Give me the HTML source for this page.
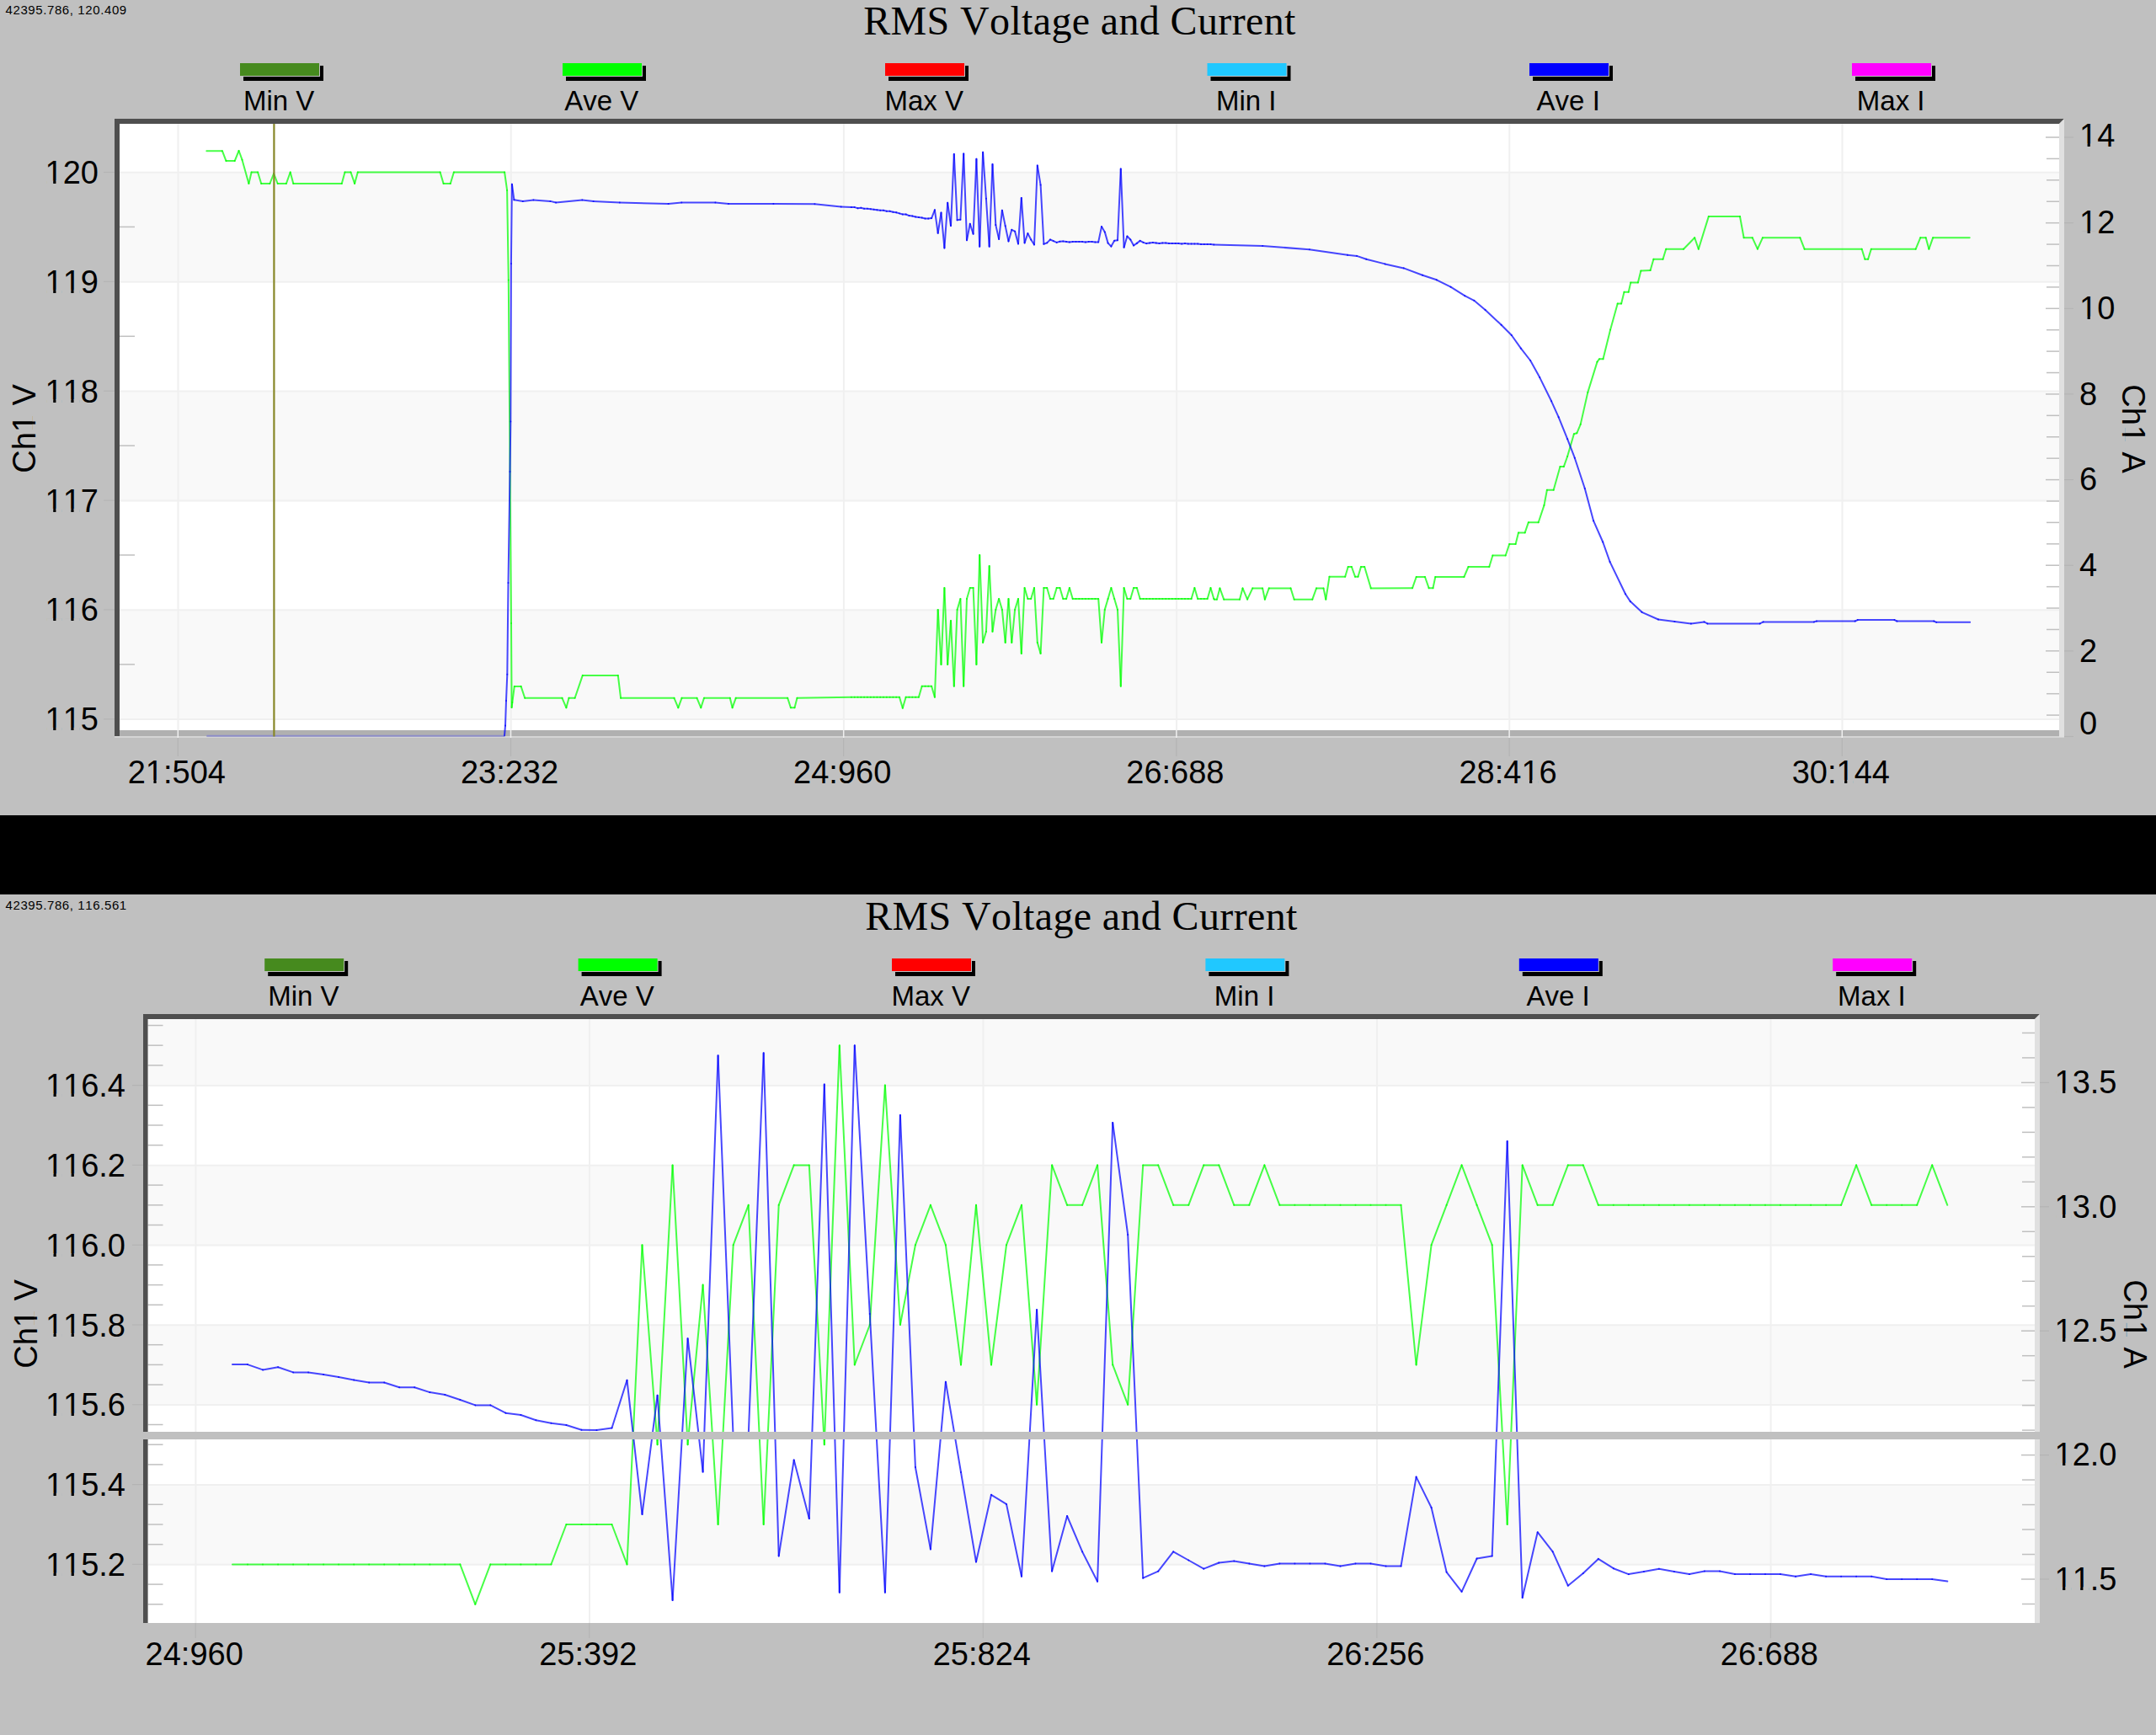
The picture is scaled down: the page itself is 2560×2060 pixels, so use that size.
<!DOCTYPE html><html><head><meta charset="utf-8"><style>html,body{margin:0;padding:0;background:#c0c0c0;overflow:hidden}svg{display:block}</style></head><body><svg width="2560" height="2060" viewBox="0 0 2560 2060">
<rect x="0" y="0" width="2560" height="2060" fill="#c0c0c0"/>
<text x="6.5" y="16.7" font-size="15" text-anchor="start" style="font-family:'Liberation Sans',sans-serif;font-kerning:none" letter-spacing="0.6">42395.786, 120.409</text>
<text x="1025.2" y="40.8" font-size="48" text-anchor="start" style="font-family:'Liberation Serif',serif;font-kerning:none" letter-spacing="0.36">RMS Voltage and Current</text>
<rect x="289" y="78" width="95" height="18" fill="#000"/>
<rect x="284" y="74" width="96" height="17" fill="#c0c0c0"/>
<rect x="285" y="75" width="94" height="15" fill="#468a1e"/>
<text x="331.2" y="130.5" font-size="33" text-anchor="middle" style="font-family:'Liberation Sans',sans-serif;font-kerning:none" >Min V</text>
<rect x="672" y="78" width="95" height="18" fill="#000"/>
<rect x="667" y="74" width="96" height="17" fill="#c0c0c0"/>
<rect x="668" y="75" width="94" height="15" fill="#00ff00"/>
<text x="714.2" y="130.5" font-size="33" text-anchor="middle" style="font-family:'Liberation Sans',sans-serif;font-kerning:none" >Ave V</text>
<rect x="1055" y="78" width="95" height="18" fill="#000"/>
<rect x="1050" y="74" width="96" height="17" fill="#c0c0c0"/>
<rect x="1051" y="75" width="94" height="15" fill="#ff0000"/>
<text x="1097.2" y="130.5" font-size="33" text-anchor="middle" style="font-family:'Liberation Sans',sans-serif;font-kerning:none" >Max V</text>
<rect x="1437.5" y="78" width="95.0" height="18" fill="#000"/>
<rect x="1432.5" y="74" width="96.0" height="17" fill="#c0c0c0"/>
<rect x="1433.5" y="75" width="94.0" height="15" fill="#20c8ff"/>
<text x="1479.7" y="130.5" font-size="33" text-anchor="middle" style="font-family:'Liberation Sans',sans-serif;font-kerning:none" >Min I</text>
<rect x="1820" y="78" width="95" height="18" fill="#000"/>
<rect x="1815" y="74" width="96" height="17" fill="#c0c0c0"/>
<rect x="1816" y="75" width="94" height="15" fill="#0000ff"/>
<text x="1862.2" y="130.5" font-size="33" text-anchor="middle" style="font-family:'Liberation Sans',sans-serif;font-kerning:none" >Ave I</text>
<rect x="2203" y="78" width="95" height="18" fill="#000"/>
<rect x="2198" y="74" width="96" height="17" fill="#c0c0c0"/>
<rect x="2199" y="75" width="94" height="15" fill="#ff00ff"/>
<text x="2245.2" y="130.5" font-size="33" text-anchor="middle" style="font-family:'Liberation Sans',sans-serif;font-kerning:none" >Max I</text>
<rect x="142" y="147" width="2303" height="720" fill="#ffffff"/>
<rect x="142" y="204.5" width="2303" height="129.86" fill="#f9f9f9"/>
<rect x="142" y="464.22" width="2303" height="129.86" fill="#f9f9f9"/>
<rect x="142" y="723.94" width="2303" height="129.86" fill="#f9f9f9"/>
<line x1="142" y1="854.1" x2="2445" y2="854.1" stroke="#f0f0f0" stroke-width="2"/>
<line x1="142" y1="724.24" x2="2445" y2="724.24" stroke="#f0f0f0" stroke-width="2"/>
<line x1="142" y1="594.38" x2="2445" y2="594.38" stroke="#f0f0f0" stroke-width="2"/>
<line x1="142" y1="464.52000000000004" x2="2445" y2="464.52000000000004" stroke="#f0f0f0" stroke-width="2"/>
<line x1="142" y1="334.66" x2="2445" y2="334.66" stroke="#f0f0f0" stroke-width="2"/>
<line x1="142" y1="204.8" x2="2445" y2="204.8" stroke="#f0f0f0" stroke-width="2"/>
<line x1="211.5" y1="147" x2="211.5" y2="867" stroke="#f0f0f0" stroke-width="2"/>
<line x1="606.7" y1="147" x2="606.7" y2="867" stroke="#f0f0f0" stroke-width="2"/>
<line x1="1001.9000000000001" y1="147" x2="1001.9000000000001" y2="867" stroke="#f0f0f0" stroke-width="2"/>
<line x1="1397.1" y1="147" x2="1397.1" y2="867" stroke="#f0f0f0" stroke-width="2"/>
<line x1="1792.3" y1="147" x2="1792.3" y2="867" stroke="#f0f0f0" stroke-width="2"/>
<line x1="2187.5" y1="147" x2="2187.5" y2="867" stroke="#f0f0f0" stroke-width="2"/>
<line x1="142" y1="788.8700000000001" x2="160" y2="788.8700000000001" stroke="#c0c0c0" stroke-width="1.5"/>
<line x1="142" y1="659.01" x2="160" y2="659.01" stroke="#c0c0c0" stroke-width="1.5"/>
<line x1="142" y1="529.1500000000001" x2="160" y2="529.1500000000001" stroke="#c0c0c0" stroke-width="1.5"/>
<line x1="142" y1="399.29" x2="160" y2="399.29" stroke="#c0c0c0" stroke-width="1.5"/>
<line x1="142" y1="269.43" x2="160" y2="269.43" stroke="#c0c0c0" stroke-width="1.5"/>
<line x1="142" y1="139.57" x2="160" y2="139.57" stroke="#c0c0c0" stroke-width="1.5"/>
<line x1="2429" y1="874.5" x2="2445" y2="874.5" stroke="#c0c0c0" stroke-width="1.5"/>
<line x1="2429" y1="772.86" x2="2445" y2="772.86" stroke="#c0c0c0" stroke-width="1.5"/>
<line x1="2429" y1="671.22" x2="2445" y2="671.22" stroke="#c0c0c0" stroke-width="1.5"/>
<line x1="2429" y1="569.5799999999999" x2="2445" y2="569.5799999999999" stroke="#c0c0c0" stroke-width="1.5"/>
<line x1="2429" y1="467.94" x2="2445" y2="467.94" stroke="#c0c0c0" stroke-width="1.5"/>
<line x1="2429" y1="366.3" x2="2445" y2="366.3" stroke="#c0c0c0" stroke-width="1.5"/>
<line x1="2429" y1="264.65999999999997" x2="2445" y2="264.65999999999997" stroke="#c0c0c0" stroke-width="1.5"/>
<line x1="2429" y1="163.01999999999998" x2="2445" y2="163.01999999999998" stroke="#c0c0c0" stroke-width="1.5"/>
<line x1="2430" y1="849.09" x2="2445" y2="849.09" stroke="#c0c0c0" stroke-width="1.5"/>
<line x1="2430" y1="823.68" x2="2445" y2="823.68" stroke="#c0c0c0" stroke-width="1.5"/>
<line x1="2430" y1="798.27" x2="2445" y2="798.27" stroke="#c0c0c0" stroke-width="1.5"/>
<line x1="2430" y1="747.45" x2="2445" y2="747.45" stroke="#c0c0c0" stroke-width="1.5"/>
<line x1="2430" y1="722.04" x2="2445" y2="722.04" stroke="#c0c0c0" stroke-width="1.5"/>
<line x1="2430" y1="696.63" x2="2445" y2="696.63" stroke="#c0c0c0" stroke-width="1.5"/>
<line x1="2430" y1="645.81" x2="2445" y2="645.81" stroke="#c0c0c0" stroke-width="1.5"/>
<line x1="2430" y1="620.4" x2="2445" y2="620.4" stroke="#c0c0c0" stroke-width="1.5"/>
<line x1="2430" y1="594.99" x2="2445" y2="594.99" stroke="#c0c0c0" stroke-width="1.5"/>
<line x1="2430" y1="544.1700000000001" x2="2445" y2="544.1700000000001" stroke="#c0c0c0" stroke-width="1.5"/>
<line x1="2430" y1="518.76" x2="2445" y2="518.76" stroke="#c0c0c0" stroke-width="1.5"/>
<line x1="2430" y1="493.35" x2="2445" y2="493.35" stroke="#c0c0c0" stroke-width="1.5"/>
<line x1="2430" y1="442.53" x2="2445" y2="442.53" stroke="#c0c0c0" stroke-width="1.5"/>
<line x1="2430" y1="417.12" x2="2445" y2="417.12" stroke="#c0c0c0" stroke-width="1.5"/>
<line x1="2430" y1="391.71" x2="2445" y2="391.71" stroke="#c0c0c0" stroke-width="1.5"/>
<line x1="2430" y1="340.89" x2="2445" y2="340.89" stroke="#c0c0c0" stroke-width="1.5"/>
<line x1="2430" y1="315.48" x2="2445" y2="315.48" stroke="#c0c0c0" stroke-width="1.5"/>
<line x1="2430" y1="290.07000000000005" x2="2445" y2="290.07000000000005" stroke="#c0c0c0" stroke-width="1.5"/>
<line x1="2430" y1="239.25" x2="2445" y2="239.25" stroke="#c0c0c0" stroke-width="1.5"/>
<line x1="2430" y1="213.84000000000003" x2="2445" y2="213.84000000000003" stroke="#c0c0c0" stroke-width="1.5"/>
<line x1="2430" y1="188.42999999999995" x2="2445" y2="188.42999999999995" stroke="#c0c0c0" stroke-width="1.5"/>
<rect x="142" y="867" width="2303" height="7" fill="#b0b0b0"/>
<rect x="136" y="874" width="2315" height="2" fill="#d4d4d4"/>
<line x1="211.3" y1="867" x2="211.3" y2="876" stroke="#f0f0f0" stroke-width="1.5"/>
<line x1="606.5" y1="867" x2="606.5" y2="876" stroke="#f0f0f0" stroke-width="1.5"/>
<line x1="1001.7" y1="867" x2="1001.7" y2="876" stroke="#f0f0f0" stroke-width="1.5"/>
<line x1="1396.8999999999999" y1="867" x2="1396.8999999999999" y2="876" stroke="#f0f0f0" stroke-width="1.5"/>
<line x1="1792.1" y1="867" x2="1792.1" y2="876" stroke="#f0f0f0" stroke-width="1.5"/>
<line x1="2187.3" y1="867" x2="2187.3" y2="876" stroke="#f0f0f0" stroke-width="1.5"/>
<g fill="none" stroke="#00ff00" stroke-opacity="0.72" stroke-width="2.0" stroke-linecap="round"><path d="M245.3 179.2L263.9 179.2"/><path d="M263.9 179.2L268.5 191.1"/><path d="M268.5 191.1L278.7 191.1"/><path d="M278.7 191.1L283.6 179.0"/><path d="M283.6 179.0L287.5 189.7"/><path d="M287.5 189.7L295.4 218.0"/><path d="M295.4 218.0L298.6 204.5"/><path d="M298.6 204.5L306.1 204.5"/><path d="M306.1 204.5L310.2 218.0"/><path d="M310.2 218.0L320.4 218.0"/><path d="M320.4 218.0L325.1 206.0"/><path d="M325.1 206.0L329.7 218.0"/><path d="M329.7 218.0L339.9 218.0"/><path d="M339.9 218.0L344.7 204.5"/><path d="M344.7 204.5L348.3 218.0"/><path d="M348.3 218.0L405.8 218.0"/><path d="M405.8 218.0L409.5 204.5"/><path d="M409.5 204.5L416.5 204.5"/><path d="M416.5 204.5L421.1 218.0"/><path d="M421.1 218.0L424.8 204.5"/><path d="M424.8 204.5L522.6 204.5"/><path d="M522.6 204.5L526.6 218.0"/><path d="M526.6 218.0L534.8 218.0"/><path d="M534.8 218.0L538.9 204.5"/><path d="M538.9 204.5L599.1 204.5"/><path d="M599.1 204.5L602.1 225.9"/><path d="M602.1 225.9L603.8 332.6"/><path d="M603.8 332.6L607.0 740.0"/><path d="M607.0 740.0L607.6 840.0"/><path d="M607.6 840.0L608.3 834.0"/><path d="M608.3 834.0L610.8 814.9"/><path d="M610.8 814.9L618.6 814.9"/><path d="M618.6 814.9L623.2 828.8"/><path d="M623.2 828.8L667.5 828.8"/><path d="M667.5 828.8L672.4 840.3"/><path d="M672.4 840.3L675.5 828.8"/><path d="M675.5 828.8L682.6 828.8"/><path d="M682.6 828.8L691.8 801.9"/><path d="M691.8 801.9L733.8 801.9"/><path d="M733.8 801.9L737.1 828.8"/><path d="M737.1 828.8L800.5 828.8"/><path d="M800.5 828.8L805.3 840.3"/><path d="M805.3 840.3L809.5 828.8"/><path d="M809.5 828.8L827.5 828.8"/><path d="M827.5 828.8L832.3 840.3"/><path d="M832.3 840.3L836.0 828.8"/><path d="M836.0 828.8L866.8 828.8"/><path d="M866.8 828.8L869.6 840.3"/><path d="M869.6 840.3L873.7 828.8"/><path d="M873.7 828.8L935.2 828.8"/><path d="M935.2 828.8L938.9 840.3"/><path d="M938.9 840.3L943.5 840.3"/><path d="M943.5 840.3L946.5 828.8"/><path d="M946.5 828.8L1010.9 827.8"/><path d="M1010.9 827.8L1014.7 827.8"/><path d="M1014.7 827.8L1018.5 827.8"/><path d="M1018.5 827.8L1022.3 827.8"/><path d="M1022.3 827.8L1026.1 827.8"/><path d="M1026.1 827.8L1029.9 827.8"/><path d="M1029.9 827.8L1033.8 827.8"/><path d="M1033.8 827.8L1037.6 827.8"/><path d="M1037.6 827.8L1041.4 827.8"/><path d="M1041.4 827.8L1045.2 827.8"/><path d="M1045.2 827.8L1049.0 827.8"/><path d="M1049.0 827.8L1052.8 827.8"/><path d="M1052.8 827.8L1056.6 827.8"/><path d="M1056.6 827.8L1060.4 827.8"/><path d="M1060.4 827.8L1064.2 827.8"/><path d="M1064.2 827.8L1068.0 827.8"/><path d="M1068.0 827.8L1071.8 840.8"/><path d="M1071.8 840.8L1075.6 827.8"/><path d="M1075.6 827.8L1079.5 827.8"/><path d="M1079.5 827.8L1083.3 827.8"/><path d="M1083.3 827.8L1087.1 827.8"/><path d="M1087.1 827.8L1090.9 827.8"/><path d="M1090.9 827.8L1094.7 814.8"/><path d="M1094.7 814.8L1098.5 814.8"/><path d="M1098.5 814.8L1102.3 814.8"/><path d="M1102.3 814.8L1106.1 814.8"/><path d="M1106.1 814.8L1109.9 827.8"/><path d="M1109.9 827.8L1113.7 723.9"/><path d="M1113.7 723.9L1117.5 788.9"/><path d="M1117.5 788.9L1121.4 698.0"/><path d="M1121.4 698.0L1125.2 788.9"/><path d="M1125.2 788.9L1129.0 736.9"/><path d="M1129.0 736.9L1132.8 814.8"/><path d="M1132.8 814.8L1136.6 723.9"/><path d="M1136.6 723.9L1140.4 711.0"/><path d="M1140.4 711.0L1144.2 814.8"/><path d="M1144.2 814.8L1148.0 711.0"/><path d="M1148.0 711.0L1151.8 698.0"/><path d="M1151.8 698.0L1155.6 698.0"/><path d="M1155.6 698.0L1159.4 788.9"/><path d="M1159.4 788.9L1163.2 659.0"/><path d="M1163.2 659.0L1167.1 762.9"/><path d="M1167.1 762.9L1170.9 749.9"/><path d="M1170.9 749.9L1174.7 672.0"/><path d="M1174.7 672.0L1178.5 749.9"/><path d="M1178.5 749.9L1182.3 723.9"/><path d="M1182.3 723.9L1186.1 711.0"/><path d="M1186.1 711.0L1189.9 723.9"/><path d="M1189.9 723.9L1193.7 762.9"/><path d="M1193.7 762.9L1197.5 711.0"/><path d="M1197.5 711.0L1201.3 762.9"/><path d="M1201.3 762.9L1205.1 723.9"/><path d="M1205.1 723.9L1209.0 711.0"/><path d="M1209.0 711.0L1212.8 775.9"/><path d="M1212.8 775.9L1216.6 698.0"/><path d="M1216.6 698.0L1220.4 711.0"/><path d="M1220.4 711.0L1224.2 711.0"/><path d="M1224.2 711.0L1228.0 698.0"/><path d="M1228.0 698.0L1231.8 762.9"/><path d="M1231.8 762.9L1235.6 775.9"/><path d="M1235.6 775.9L1239.4 698.0"/><path d="M1239.4 698.0L1243.2 698.0"/><path d="M1243.2 698.0L1247.0 711.0"/><path d="M1247.0 711.0L1250.8 711.0"/><path d="M1250.8 711.0L1254.7 698.0"/><path d="M1254.7 698.0L1258.5 698.0"/><path d="M1258.5 698.0L1262.3 711.0"/><path d="M1262.3 711.0L1266.1 711.0"/><path d="M1266.1 711.0L1269.9 698.0"/><path d="M1269.9 698.0L1273.7 711.0"/><path d="M1273.7 711.0L1277.5 711.0"/><path d="M1277.5 711.0L1281.3 711.0"/><path d="M1281.3 711.0L1285.1 711.0"/><path d="M1285.1 711.0L1288.9 711.0"/><path d="M1288.9 711.0L1292.7 711.0"/><path d="M1292.7 711.0L1296.6 711.0"/><path d="M1296.6 711.0L1300.4 711.0"/><path d="M1300.4 711.0L1304.2 711.0"/><path d="M1304.2 711.0L1308.0 762.9"/><path d="M1308.0 762.9L1311.8 723.9"/><path d="M1311.8 723.9L1315.6 711.0"/><path d="M1315.6 711.0L1319.4 698.0"/><path d="M1319.4 698.0L1323.2 711.0"/><path d="M1323.2 711.0L1327.0 723.9"/><path d="M1327.0 723.9L1330.8 814.8"/><path d="M1330.8 814.8L1334.6 698.0"/><path d="M1334.6 698.0L1338.4 711.0"/><path d="M1338.4 711.0L1342.3 711.0"/><path d="M1342.3 711.0L1346.1 698.0"/><path d="M1346.1 698.0L1349.9 698.0"/><path d="M1349.9 698.0L1353.7 711.0"/><path d="M1353.7 711.0L1357.5 711.0"/><path d="M1357.5 711.0L1361.3 711.0"/><path d="M1361.3 711.0L1365.1 711.0"/><path d="M1365.1 711.0L1368.9 711.0"/><path d="M1368.9 711.0L1372.7 711.0"/><path d="M1372.7 711.0L1376.5 711.0"/><path d="M1376.5 711.0L1380.3 711.0"/><path d="M1380.3 711.0L1384.2 711.0"/><path d="M1384.2 711.0L1388.0 711.0"/><path d="M1388.0 711.0L1391.8 711.0"/><path d="M1391.8 711.0L1395.6 711.0"/><path d="M1395.6 711.0L1399.4 711.0"/><path d="M1399.4 711.0L1403.2 711.0"/><path d="M1403.2 711.0L1407.0 711.0"/><path d="M1407.0 711.0L1410.8 711.0"/><path d="M1410.8 711.0L1414.6 711.0"/><path d="M1414.6 711.0L1418.4 698.0"/><path d="M1418.4 698.0L1422.2 711.0"/><path d="M1422.2 711.0L1426.0 711.0"/><path d="M1426.0 711.0L1429.9 711.0"/><path d="M1429.9 711.0L1433.7 711.0"/><path d="M1433.7 711.0L1437.5 698.0"/><path d="M1437.5 698.0L1441.3 711.0"/><path d="M1441.3 711.0L1442.1 711.7"/><path d="M1442.1 711.7L1444.9 711.7"/><path d="M1444.9 711.7L1448.4 698.4"/><path d="M1448.4 698.4L1453.2 711.7"/><path d="M1453.2 711.7L1472.0 711.7"/><path d="M1472.0 711.7L1475.5 698.4"/><path d="M1475.5 698.4L1481.1 711.7"/><path d="M1481.1 711.7L1487.3 698.4"/><path d="M1487.3 698.4L1499.1 698.4"/><path d="M1499.1 698.4L1501.9 711.7"/><path d="M1501.9 711.7L1506.8 698.4"/><path d="M1506.8 698.4L1532.5 698.4"/><path d="M1532.5 698.4L1536.7 711.7"/><path d="M1536.7 711.7L1558.3 711.7"/><path d="M1558.3 711.7L1563.1 698.4"/><path d="M1563.1 698.4L1571.5 698.4"/><path d="M1571.5 698.4L1574.3 711.7"/><path d="M1574.3 711.7L1578.5 684.8"/><path d="M1578.5 684.8L1597.2 684.8"/><path d="M1597.2 684.8L1600.7 673.0"/><path d="M1600.7 673.0L1604.9 673.0"/><path d="M1604.9 673.0L1609.1 684.8"/><path d="M1609.1 684.8L1612.5 684.8"/><path d="M1612.5 684.8L1616.0 673.0"/><path d="M1616.0 673.0L1620.2 673.0"/><path d="M1620.2 673.0L1627.8 698.4"/><path d="M1627.8 698.4L1677.1 698.2"/><path d="M1677.1 698.2L1681.7 685.0"/><path d="M1681.7 685.0L1692.0 685.0"/><path d="M1692.0 685.0L1696.6 698.2"/><path d="M1696.6 698.2L1701.5 698.2"/><path d="M1701.5 698.2L1704.3 685.0"/><path d="M1704.3 685.0L1738.4 685.0"/><path d="M1738.4 685.0L1743.5 673.0"/><path d="M1743.5 673.0L1768.3 673.0"/><path d="M1768.3 673.0L1772.4 659.5"/><path d="M1772.4 659.5L1787.7 659.5"/><path d="M1787.7 659.5L1792.2 646.0"/><path d="M1792.2 646.0L1799.6 646.0"/><path d="M1799.6 646.0L1803.0 632.4"/><path d="M1803.0 632.4L1810.7 632.4"/><path d="M1810.7 632.4L1814.9 620.2"/><path d="M1814.9 620.2L1826.7 620.2"/><path d="M1826.7 620.2L1833.5 599.9"/><path d="M1833.5 599.9L1836.9 581.7"/><path d="M1836.9 581.7L1844.7 581.7"/><path d="M1844.7 581.7L1852.5 554.1"/><path d="M1852.5 554.1L1856.8 554.1"/><path d="M1856.8 554.1L1861.1 542.0"/><path d="M1861.1 542.0L1868.9 515.2"/><path d="M1868.9 515.2L1872.3 514.3"/><path d="M1872.3 514.3L1876.7 503.9"/><path d="M1876.7 503.9L1885.3 465.9"/><path d="M1885.3 465.9L1896.5 429.6"/><path d="M1896.5 429.6L1899.1 426.2"/><path d="M1899.1 426.2L1903.5 426.2"/><path d="M1903.5 426.2L1912.1 391.6"/><path d="M1912.1 391.6L1920.7 360.5"/><path d="M1920.7 360.5L1925.1 360.5"/><path d="M1925.1 360.5L1928.5 346.7"/><path d="M1928.5 346.7L1933.7 346.7"/><path d="M1933.7 346.7L1936.3 335.4"/><path d="M1936.3 335.4L1944.9 335.4"/><path d="M1944.9 335.4L1948.4 321.6"/><path d="M1948.4 321.6L1959.6 321.1"/><path d="M1959.6 321.1L1963.4 307.7"/><path d="M1963.4 307.7L1974.5 307.7"/><path d="M1974.5 307.7L1978.2 295.7"/><path d="M1978.2 295.7L1999.0 295.7"/><path d="M1999.0 295.7L2012.2 282.3"/><path d="M2012.2 282.3L2016.8 295.7"/><path d="M2016.8 295.7L2028.8 257.1"/><path d="M2028.8 257.1L2066.0 257.1"/><path d="M2066.0 257.1L2070.6 282.3"/><path d="M2070.6 282.3L2080.8 282.3"/><path d="M2080.8 282.3L2086.9 295.7"/><path d="M2086.9 295.7L2092.9 282.3"/><path d="M2092.9 282.3L2137.4 282.3"/><path d="M2137.4 282.3L2142.6 295.7"/><path d="M2142.6 295.7L2210.7 295.7"/><path d="M2210.7 295.7L2214.4 307.7"/><path d="M2214.4 307.7L2218.1 307.7"/><path d="M2218.1 307.7L2221.8 295.7"/><path d="M2221.8 295.7L2274.7 295.7"/><path d="M2274.7 295.7L2280.2 282.3"/><path d="M2280.2 282.3L2286.7 282.3"/><path d="M2286.7 282.3L2290.4 295.7"/><path d="M2290.4 295.7L2295.1 282.3"/><path d="M2295.1 282.3L2338.7 282.3"/></g>
<polyline points="245.3,873.8 599.0,873.8" fill="none" stroke="#8c8cc8" stroke-width="2.0" stroke-linejoin="round" />
<g fill="none" stroke="#0000ff" stroke-opacity="0.72" stroke-width="2.0" stroke-linecap="round"><path d="M599.0 873.3L600.0 861.6"/><path d="M600.0 861.6L601.0 832.0"/><path d="M601.0 832.0L602.3 800.8"/><path d="M602.3 800.8L603.5 692.0"/><path d="M603.5 692.0L605.5 560.0"/><path d="M605.5 560.0L606.3 500.5"/><path d="M606.3 500.5L606.9 313.0"/><path d="M606.9 313.0L607.9 218.7"/><path d="M607.9 218.7L610.4 237.3"/><path d="M610.4 237.3L620.8 238.9"/><path d="M620.8 238.9L633.4 237.4"/><path d="M633.4 237.4L653.4 238.9"/><path d="M653.4 238.9L660.1 240.5"/><path d="M660.1 240.5L691.3 237.4"/><path d="M691.3 237.4L704.6 238.9"/><path d="M704.6 238.9L735.8 240.5"/><path d="M735.8 240.5L793.7 242.0"/><path d="M793.7 242.0L809.3 240.5"/><path d="M809.3 240.5L849.4 240.5"/><path d="M849.4 240.5L865.0 242.0"/><path d="M865.0 242.0L918.4 242.0"/><path d="M918.4 242.0L967.4 242.3"/><path d="M967.4 242.3L998.6 245.6"/><path d="M998.6 245.6L1010.9 246.1"/><path d="M1010.9 246.1L1014.7 246.1"/><path d="M1014.7 246.1L1018.5 247.2"/><path d="M1018.5 247.2L1022.3 246.7"/><path d="M1022.3 246.7L1026.1 247.7"/><path d="M1026.1 247.7L1029.9 247.7"/><path d="M1029.9 247.7L1033.8 248.2"/><path d="M1033.8 248.2L1037.6 248.7"/><path d="M1037.6 248.7L1041.4 249.3"/><path d="M1041.4 249.3L1045.2 249.8"/><path d="M1045.2 249.8L1049.0 249.8"/><path d="M1049.0 249.8L1052.8 250.8"/><path d="M1052.8 250.8L1056.6 250.8"/><path d="M1056.6 250.8L1060.4 251.8"/><path d="M1060.4 251.8L1064.2 252.3"/><path d="M1064.2 252.3L1068.0 253.4"/><path d="M1068.0 253.4L1071.8 254.5"/><path d="M1071.8 254.5L1075.6 254.5"/><path d="M1075.6 254.5L1079.5 256.1"/><path d="M1079.5 256.1L1083.3 256.5"/><path d="M1083.3 256.5L1087.1 257.5"/><path d="M1087.1 257.5L1090.9 258.1"/><path d="M1090.9 258.1L1094.7 258.5"/><path d="M1094.7 258.5L1098.5 259.5"/><path d="M1098.5 259.5L1102.3 259.6"/><path d="M1102.3 259.6L1106.1 259.1"/><path d="M1106.1 259.1L1109.9 249.3"/><path d="M1109.9 249.3L1113.7 276.8"/><path d="M1113.7 276.8L1117.5 252.5"/><path d="M1117.5 252.5L1121.4 294.4"/><path d="M1121.4 294.4L1125.2 240.8"/><path d="M1125.2 240.8L1129.0 268.1"/><path d="M1129.0 268.1L1132.8 182.9"/><path d="M1132.8 182.9L1136.6 261.3"/><path d="M1136.6 261.3L1140.4 260.8"/><path d="M1140.4 260.8L1144.2 182.4"/><path d="M1144.2 182.4L1148.0 285.3"/><path d="M1148.0 285.3L1151.8 265.7"/><path d="M1151.8 265.7L1155.6 277.7"/><path d="M1155.6 277.7L1159.4 188.8"/><path d="M1159.4 188.8L1163.2 292.8"/><path d="M1163.2 292.8L1167.1 180.8"/><path d="M1167.1 180.8L1170.9 235.8"/><path d="M1170.9 235.8L1174.7 292.8"/><path d="M1174.7 292.8L1178.5 195.1"/><path d="M1178.5 195.1L1182.3 267.1"/><path d="M1182.3 267.1L1186.1 283.9"/><path d="M1186.1 283.9L1189.9 249.7"/><path d="M1189.9 249.7L1193.7 268.2"/><path d="M1193.7 268.2L1197.5 286.5"/><path d="M1197.5 286.5L1201.3 272.8"/><path d="M1201.3 272.8L1205.1 274.7"/><path d="M1205.1 274.7L1209.0 289.5"/><path d="M1209.0 289.5L1212.8 234.9"/><path d="M1212.8 234.9L1216.6 288.4"/><path d="M1216.6 288.4L1220.4 277.1"/><path d="M1220.4 277.1L1224.2 284.5"/><path d="M1224.2 284.5L1228.0 290.5"/><path d="M1228.0 290.5L1231.8 196.6"/><path d="M1231.8 196.6L1235.6 219.6"/><path d="M1235.6 219.6L1239.4 289.8"/><path d="M1239.4 289.8L1243.2 288.4"/><path d="M1243.2 288.4L1247.0 284.5"/><path d="M1247.0 284.5L1250.8 286.2"/><path d="M1250.8 286.2L1254.7 287.9"/><path d="M1254.7 287.9L1258.5 286.7"/><path d="M1258.5 286.7L1262.3 286.4"/><path d="M1262.3 286.4L1266.1 286.9"/><path d="M1266.1 286.9L1269.9 287.4"/><path d="M1269.9 287.4L1273.7 286.9"/><path d="M1273.7 286.9L1277.5 286.9"/><path d="M1277.5 286.9L1281.3 286.9"/><path d="M1281.3 286.9L1285.1 286.9"/><path d="M1285.1 286.9L1288.9 287.4"/><path d="M1288.9 287.4L1292.7 286.9"/><path d="M1292.7 286.9L1296.6 286.9"/><path d="M1296.6 286.9L1300.4 287.4"/><path d="M1300.4 287.4L1304.2 287.4"/><path d="M1304.2 287.4L1308.0 269.1"/><path d="M1308.0 269.1L1311.8 275.4"/><path d="M1311.8 275.4L1315.6 288.6"/><path d="M1315.6 288.6L1319.4 292.6"/><path d="M1319.4 292.6L1323.2 285.8"/><path d="M1323.2 285.8L1327.0 285.3"/><path d="M1327.0 285.3L1330.8 200.4"/><path d="M1330.8 200.4L1334.6 293.8"/><path d="M1334.6 293.8L1338.4 280.5"/><path d="M1338.4 280.5L1342.3 284.5"/><path d="M1342.3 284.5L1346.1 291.4"/><path d="M1346.1 291.4L1349.9 288.9"/><path d="M1349.9 288.9L1353.7 285.9"/><path d="M1353.7 285.9L1357.5 287.9"/><path d="M1357.5 287.9L1361.3 289.1"/><path d="M1361.3 289.1L1365.1 288.5"/><path d="M1365.1 288.5L1368.9 287.9"/><path d="M1368.9 287.9L1372.7 288.5"/><path d="M1372.7 288.5L1376.5 289.1"/><path d="M1376.5 289.1L1380.3 288.4"/><path d="M1380.3 288.4L1384.2 288.4"/><path d="M1384.2 288.4L1388.0 289.1"/><path d="M1388.0 289.1L1391.8 289.1"/><path d="M1391.8 289.1L1395.6 289.1"/><path d="M1395.6 289.1L1399.4 289.1"/><path d="M1399.4 289.1L1403.2 289.5"/><path d="M1403.2 289.5L1407.0 289.1"/><path d="M1407.0 289.1L1410.8 289.5"/><path d="M1410.8 289.5L1414.6 289.5"/><path d="M1414.6 289.5L1418.4 289.5"/><path d="M1418.4 289.5L1422.2 289.5"/><path d="M1422.2 289.5L1426.0 290.1"/><path d="M1426.0 290.1L1429.9 290.1"/><path d="M1429.9 290.1L1433.7 290.1"/><path d="M1433.7 290.1L1437.5 290.1"/><path d="M1437.5 290.1L1441.3 290.5"/><path d="M1441.3 290.5L1499.2 292.0"/><path d="M1499.2 292.0L1554.8 296.2"/><path d="M1554.8 296.2L1600.0 302.8"/><path d="M1600.0 302.8L1611.1 303.9"/><path d="M1611.1 303.9L1622.3 307.8"/><path d="M1622.3 307.8L1644.5 313.4"/><path d="M1644.5 313.4L1666.8 318.4"/><path d="M1666.8 318.4L1689.1 326.7"/><path d="M1689.1 326.7L1705.8 332.3"/><path d="M1705.8 332.3L1722.5 340.7"/><path d="M1722.5 340.7L1739.2 351.2"/><path d="M1739.2 351.2L1750.3 356.8"/><path d="M1750.3 356.8L1763.6 367.9"/><path d="M1763.6 367.9L1782.6 385.7"/><path d="M1782.6 385.7L1794.8 398.0"/><path d="M1794.8 398.0L1805.9 413.6"/><path d="M1805.9 413.6L1817.1 428.0"/><path d="M1817.1 428.0L1828.2 448.1"/><path d="M1828.2 448.1L1842.1 476.3"/><path d="M1842.1 476.3L1850.7 495.3"/><path d="M1850.7 495.3L1861.1 521.2"/><path d="M1861.1 521.2L1869.8 543.7"/><path d="M1869.8 543.7L1881.8 580.0"/><path d="M1881.8 580.0L1892.1 618.4"/><path d="M1892.1 618.4L1903.2 643.5"/><path d="M1903.2 643.5L1911.6 667.1"/><path d="M1911.6 667.1L1930.0 705.3"/><path d="M1930.0 705.3L1935.8 714.1"/><path d="M1935.8 714.1L1949.5 726.8"/><path d="M1949.5 726.8L1969.0 735.5"/><path d="M1969.0 735.5L1988.4 738.1"/><path d="M1988.4 738.1L2007.9 740.4"/><path d="M2007.9 740.4L2023.5 738.4"/><path d="M2023.5 738.4L2027.4 740.4"/><path d="M2027.4 740.4L2089.7 740.4"/><path d="M2089.7 740.4L2093.6 738.4"/><path d="M2093.6 738.4L2154.0 738.4"/><path d="M2154.0 738.4L2157.0 737.5"/><path d="M2157.0 737.5L2202.7 737.5"/><path d="M2202.7 737.5L2205.7 736.1"/><path d="M2205.7 736.1L2249.5 736.1"/><path d="M2249.5 736.1L2252.4 737.5"/><path d="M2252.4 737.5L2296.3 737.5"/><path d="M2296.3 737.5L2299.2 738.8"/><path d="M2299.2 738.8L2339.1 738.8"/></g>
<line x1="325.4" y1="147" x2="325.4" y2="874.5" stroke="#888828" stroke-width="2.2"/>
<polygon points="136,141 2451,141 2445,147 142,147 142,874 136,874" fill="#4f4f4f"/>
<polygon points="2451,141 2451,875 2445,875 2445,147" fill="#e0e0e0"/>
<line x1="123" y1="853.8000000000001" x2="136" y2="853.8000000000001" stroke="#b4b4b4" stroke-width="1.2"/>
<line x1="123" y1="723.94" x2="136" y2="723.94" stroke="#b4b4b4" stroke-width="1.2"/>
<line x1="123" y1="594.08" x2="136" y2="594.08" stroke="#b4b4b4" stroke-width="1.2"/>
<line x1="123" y1="464.22" x2="136" y2="464.22" stroke="#b4b4b4" stroke-width="1.2"/>
<line x1="123" y1="334.36" x2="136" y2="334.36" stroke="#b4b4b4" stroke-width="1.2"/>
<line x1="123" y1="204.5" x2="136" y2="204.5" stroke="#b4b4b4" stroke-width="1.2"/>
<line x1="2451" y1="874.5" x2="2462" y2="874.5" stroke="#b4b4b4" stroke-width="1.2"/>
<line x1="2451" y1="772.86" x2="2462" y2="772.86" stroke="#b4b4b4" stroke-width="1.2"/>
<line x1="2451" y1="671.22" x2="2462" y2="671.22" stroke="#b4b4b4" stroke-width="1.2"/>
<line x1="2451" y1="569.5799999999999" x2="2462" y2="569.5799999999999" stroke="#b4b4b4" stroke-width="1.2"/>
<line x1="2451" y1="467.94" x2="2462" y2="467.94" stroke="#b4b4b4" stroke-width="1.2"/>
<line x1="2451" y1="366.3" x2="2462" y2="366.3" stroke="#b4b4b4" stroke-width="1.2"/>
<line x1="2451" y1="264.65999999999997" x2="2462" y2="264.65999999999997" stroke="#b4b4b4" stroke-width="1.2"/>
<line x1="2451" y1="163.01999999999998" x2="2462" y2="163.01999999999998" stroke="#b4b4b4" stroke-width="1.2"/>
<line x1="211.3" y1="876" x2="211.3" y2="898" stroke="#b4b4b4" stroke-width="1.2"/>
<line x1="606.5" y1="876" x2="606.5" y2="898" stroke="#b4b4b4" stroke-width="1.2"/>
<line x1="1001.7" y1="876" x2="1001.7" y2="898" stroke="#b4b4b4" stroke-width="1.2"/>
<line x1="1396.8999999999999" y1="876" x2="1396.8999999999999" y2="898" stroke="#b4b4b4" stroke-width="1.2"/>
<line x1="1792.1" y1="876" x2="1792.1" y2="898" stroke="#b4b4b4" stroke-width="1.2"/>
<line x1="2187.3" y1="876" x2="2187.3" y2="898" stroke="#b4b4b4" stroke-width="1.2"/>
<text x="117" y="867.3000000000001" font-size="38" text-anchor="end" style="font-family:'Liberation Sans',sans-serif;font-kerning:none" >115</text>
<rect x="55.52" y="863.88" width="7.70" height="4.92" fill="#c0c0c0"/>
<rect x="66.42" y="863.88" width="7.22" height="4.92" fill="#c0c0c0"/>
<rect x="76.64" y="863.88" width="7.70" height="4.92" fill="#c0c0c0"/>
<rect x="87.55" y="863.88" width="7.22" height="4.92" fill="#c0c0c0"/>
<text x="117" y="737.44" font-size="38" text-anchor="end" style="font-family:'Liberation Sans',sans-serif;font-kerning:none" >116</text>
<rect x="55.52" y="734.02" width="7.70" height="4.92" fill="#c0c0c0"/>
<rect x="66.42" y="734.02" width="7.22" height="4.92" fill="#c0c0c0"/>
<rect x="76.64" y="734.02" width="7.70" height="4.92" fill="#c0c0c0"/>
<rect x="87.55" y="734.02" width="7.22" height="4.92" fill="#c0c0c0"/>
<text x="117" y="607.58" font-size="38" text-anchor="end" style="font-family:'Liberation Sans',sans-serif;font-kerning:none" >117</text>
<rect x="55.52" y="604.16" width="7.70" height="4.92" fill="#c0c0c0"/>
<rect x="66.42" y="604.16" width="7.22" height="4.92" fill="#c0c0c0"/>
<rect x="76.64" y="604.16" width="7.70" height="4.92" fill="#c0c0c0"/>
<rect x="87.55" y="604.16" width="7.22" height="4.92" fill="#c0c0c0"/>
<text x="117" y="477.72" font-size="38" text-anchor="end" style="font-family:'Liberation Sans',sans-serif;font-kerning:none" >118</text>
<rect x="55.52" y="474.30" width="7.70" height="4.92" fill="#c0c0c0"/>
<rect x="66.42" y="474.30" width="7.22" height="4.92" fill="#c0c0c0"/>
<rect x="76.64" y="474.30" width="7.70" height="4.92" fill="#c0c0c0"/>
<rect x="87.55" y="474.30" width="7.22" height="4.92" fill="#c0c0c0"/>
<text x="117" y="347.86" font-size="38" text-anchor="end" style="font-family:'Liberation Sans',sans-serif;font-kerning:none" >119</text>
<rect x="55.52" y="344.44" width="7.70" height="4.92" fill="#c0c0c0"/>
<rect x="66.42" y="344.44" width="7.22" height="4.92" fill="#c0c0c0"/>
<rect x="76.64" y="344.44" width="7.70" height="4.92" fill="#c0c0c0"/>
<rect x="87.55" y="344.44" width="7.22" height="4.92" fill="#c0c0c0"/>
<text x="117" y="218.0" font-size="38" text-anchor="end" style="font-family:'Liberation Sans',sans-serif;font-kerning:none" >120</text>
<rect x="55.52" y="214.58" width="7.70" height="4.92" fill="#c0c0c0"/>
<rect x="66.42" y="214.58" width="7.22" height="4.92" fill="#c0c0c0"/>
<text x="2469" y="872.2" font-size="38" text-anchor="start" style="font-family:'Liberation Sans',sans-serif;font-kerning:none" >0</text>
<text x="2469" y="785.66" font-size="38" text-anchor="start" style="font-family:'Liberation Sans',sans-serif;font-kerning:none" >2</text>
<text x="2469" y="684.02" font-size="38" text-anchor="start" style="font-family:'Liberation Sans',sans-serif;font-kerning:none" >4</text>
<text x="2469" y="582.3799999999999" font-size="38" text-anchor="start" style="font-family:'Liberation Sans',sans-serif;font-kerning:none" >6</text>
<text x="2469" y="480.74" font-size="38" text-anchor="start" style="font-family:'Liberation Sans',sans-serif;font-kerning:none" >8</text>
<text x="2469" y="379.1" font-size="38" text-anchor="start" style="font-family:'Liberation Sans',sans-serif;font-kerning:none" >10</text>
<rect x="2470.90" y="375.68" width="7.70" height="4.92" fill="#c0c0c0"/>
<rect x="2481.81" y="375.68" width="7.22" height="4.92" fill="#c0c0c0"/>
<text x="2469" y="277.46" font-size="38" text-anchor="start" style="font-family:'Liberation Sans',sans-serif;font-kerning:none" >12</text>
<rect x="2470.90" y="274.04" width="7.70" height="4.92" fill="#c0c0c0"/>
<rect x="2481.81" y="274.04" width="7.22" height="4.92" fill="#c0c0c0"/>
<text x="2469" y="174.0" font-size="38" text-anchor="start" style="font-family:'Liberation Sans',sans-serif;font-kerning:none" >14</text>
<rect x="2470.90" y="170.58" width="7.70" height="4.92" fill="#c0c0c0"/>
<rect x="2481.81" y="170.58" width="7.22" height="4.92" fill="#c0c0c0"/>
<text x="209.8" y="929.5" font-size="38" text-anchor="middle" style="font-family:'Liberation Sans',sans-serif;font-kerning:none" >21:504</text>
<rect x="174.73" y="926.08" width="7.70" height="4.92" fill="#c0c0c0"/>
<rect x="185.63" y="926.08" width="7.22" height="4.92" fill="#c0c0c0"/>
<text x="605.0" y="929.5" font-size="38" text-anchor="middle" style="font-family:'Liberation Sans',sans-serif;font-kerning:none" >23:232</text>
<text x="1000.2" y="929.5" font-size="38" text-anchor="middle" style="font-family:'Liberation Sans',sans-serif;font-kerning:none" >24:960</text>
<text x="1395.3999999999999" y="929.5" font-size="38" text-anchor="middle" style="font-family:'Liberation Sans',sans-serif;font-kerning:none" >26:688</text>
<text x="1790.6" y="929.5" font-size="38" text-anchor="middle" style="font-family:'Liberation Sans',sans-serif;font-kerning:none" >28:416</text>
<rect x="1808.35" y="926.08" width="7.70" height="4.92" fill="#c0c0c0"/>
<rect x="1819.25" y="926.08" width="7.22" height="4.92" fill="#c0c0c0"/>
<text x="2185.8" y="929.5" font-size="38" text-anchor="middle" style="font-family:'Liberation Sans',sans-serif;font-kerning:none" >30:144</text>
<rect x="2182.42" y="926.08" width="7.70" height="4.92" fill="#c0c0c0"/>
<rect x="2193.32" y="926.08" width="7.22" height="4.92" fill="#c0c0c0"/>
<g transform="translate(42,509) rotate(-90)"><text x="0" y="0" font-size="38" text-anchor="middle" style="font-family:'Liberation Sans',sans-serif;font-kerning:none">Ch1 V</text>
<rect x="-2.34" y="-3.42" width="7.70" height="4.92" fill="#c0c0c0"/>
<rect x="8.57" y="-3.42" width="7.22" height="4.92" fill="#c0c0c0"/>
</g>
<g transform="translate(2520,509) rotate(90)"><text x="0" y="0" font-size="38" text-anchor="middle" style="font-family:'Liberation Sans',sans-serif;font-kerning:none">Ch1 A</text>
<rect x="-2.34" y="-3.42" width="7.70" height="4.92" fill="#c0c0c0"/>
<rect x="8.57" y="-3.42" width="7.22" height="4.92" fill="#c0c0c0"/>
</g>
<rect x="0" y="968" width="2560" height="94" fill="#000"/>
<text x="6.5" y="1080.2" font-size="15" text-anchor="start" style="font-family:'Liberation Sans',sans-serif;font-kerning:none" letter-spacing="0.6">42395.786, 116.561</text>
<text x="1027.2" y="1103.6" font-size="48" text-anchor="start" style="font-family:'Liberation Serif',serif;font-kerning:none" letter-spacing="0.36">RMS Voltage and Current</text>
<rect x="318.2" y="1141" width="95.0" height="18" fill="#000"/>
<rect x="313.2" y="1137" width="96.0" height="17" fill="#c0c0c0"/>
<rect x="314.2" y="1138" width="94.0" height="15" fill="#468a1e"/>
<text x="360.4" y="1193.6" font-size="33" text-anchor="middle" style="font-family:'Liberation Sans',sans-serif;font-kerning:none" >Min V</text>
<rect x="690.6" y="1141" width="95.0" height="18" fill="#000"/>
<rect x="685.6" y="1137" width="96.0" height="17" fill="#c0c0c0"/>
<rect x="686.6" y="1138" width="94.0" height="15" fill="#00ff00"/>
<text x="732.8000000000001" y="1193.6" font-size="33" text-anchor="middle" style="font-family:'Liberation Sans',sans-serif;font-kerning:none" >Ave V</text>
<rect x="1063" y="1141" width="95" height="18" fill="#000"/>
<rect x="1058" y="1137" width="96" height="17" fill="#c0c0c0"/>
<rect x="1059" y="1138" width="94" height="15" fill="#ff0000"/>
<text x="1105.2" y="1193.6" font-size="33" text-anchor="middle" style="font-family:'Liberation Sans',sans-serif;font-kerning:none" >Max V</text>
<rect x="1435.4" y="1141" width="95.0" height="18" fill="#000"/>
<rect x="1430.4" y="1137" width="96.0" height="17" fill="#c0c0c0"/>
<rect x="1431.4" y="1138" width="94.0" height="15" fill="#20c8ff"/>
<text x="1477.6000000000001" y="1193.6" font-size="33" text-anchor="middle" style="font-family:'Liberation Sans',sans-serif;font-kerning:none" >Min I</text>
<rect x="1807.8" y="1141" width="95.0" height="18" fill="#000"/>
<rect x="1802.8" y="1137" width="96.0" height="17" fill="#c0c0c0"/>
<rect x="1803.8" y="1138" width="94.0" height="15" fill="#0000ff"/>
<text x="1850.0" y="1193.6" font-size="33" text-anchor="middle" style="font-family:'Liberation Sans',sans-serif;font-kerning:none" >Ave I</text>
<rect x="2180.2" y="1141" width="95.0" height="18" fill="#000"/>
<rect x="2175.2" y="1137" width="96.0" height="17" fill="#c0c0c0"/>
<rect x="2176.2" y="1138" width="94.0" height="15" fill="#ff00ff"/>
<text x="2222.3999999999996" y="1193.6" font-size="33" text-anchor="middle" style="font-family:'Liberation Sans',sans-serif;font-kerning:none" >Max I</text>
<rect x="175.5" y="1210" width="2240.5" height="717" fill="#ffffff"/>
<rect x="175.5" y="1210" width="2240.5" height="78.59999999999991" fill="#f9f9f9"/>
<rect x="175.5" y="1383.4000000000012" width="2240.5" height="94.80000000000132" fill="#f9f9f9"/>
<rect x="175.5" y="1573.000000000004" width="2240.5" height="94.80000000000109" fill="#f9f9f9"/>
<rect x="175.5" y="1762.6" width="2240.5" height="94.80000000000132" fill="#f9f9f9"/>
<line x1="175.5" y1="1857.7000000000012" x2="2416" y2="1857.7000000000012" stroke="#f0f0f0" stroke-width="2"/>
<line x1="175.5" y1="1762.8999999999999" x2="2416" y2="1762.8999999999999" stroke="#f0f0f0" stroke-width="2"/>
<line x1="175.5" y1="1668.0999999999985" x2="2416" y2="1668.0999999999985" stroke="#f0f0f0" stroke-width="2"/>
<line x1="175.5" y1="1573.300000000004" x2="2416" y2="1573.300000000004" stroke="#f0f0f0" stroke-width="2"/>
<line x1="175.5" y1="1478.5000000000025" x2="2416" y2="1478.5000000000025" stroke="#f0f0f0" stroke-width="2"/>
<line x1="175.5" y1="1383.7000000000012" x2="2416" y2="1383.7000000000012" stroke="#f0f0f0" stroke-width="2"/>
<line x1="175.5" y1="1288.8999999999999" x2="2416" y2="1288.8999999999999" stroke="#f0f0f0" stroke-width="2"/>
<line x1="232.39999999999998" y1="1210" x2="232.39999999999998" y2="1927" stroke="#f0f0f0" stroke-width="2"/>
<line x1="699.95" y1="1210" x2="699.95" y2="1927" stroke="#f0f0f0" stroke-width="2"/>
<line x1="1167.5" y1="1210" x2="1167.5" y2="1927" stroke="#f0f0f0" stroke-width="2"/>
<line x1="1635.0500000000002" y1="1210" x2="1635.0500000000002" y2="1927" stroke="#f0f0f0" stroke-width="2"/>
<line x1="2102.6" y1="1210" x2="2102.6" y2="1927" stroke="#f0f0f0" stroke-width="2"/>
<line x1="175.5" y1="1904.7999999999986" x2="193.5" y2="1904.7999999999986" stroke="#c0c0c0" stroke-width="1.5"/>
<line x1="175.5" y1="1881.1" x2="193.5" y2="1881.1" stroke="#c0c0c0" stroke-width="1.5"/>
<line x1="175.5" y1="1833.7000000000025" x2="193.5" y2="1833.7000000000025" stroke="#c0c0c0" stroke-width="1.5"/>
<line x1="175.5" y1="1810.000000000004" x2="193.5" y2="1810.000000000004" stroke="#c0c0c0" stroke-width="1.5"/>
<line x1="175.5" y1="1786.2999999999986" x2="193.5" y2="1786.2999999999986" stroke="#c0c0c0" stroke-width="1.5"/>
<line x1="175.5" y1="1738.9000000000012" x2="193.5" y2="1738.9000000000012" stroke="#c0c0c0" stroke-width="1.5"/>
<line x1="175.5" y1="1715.2000000000025" x2="193.5" y2="1715.2000000000025" stroke="#c0c0c0" stroke-width="1.5"/>
<line x1="175.5" y1="1691.500000000004" x2="193.5" y2="1691.500000000004" stroke="#c0c0c0" stroke-width="1.5"/>
<line x1="175.5" y1="1644.1" x2="193.5" y2="1644.1" stroke="#c0c0c0" stroke-width="1.5"/>
<line x1="175.5" y1="1620.4000000000012" x2="193.5" y2="1620.4000000000012" stroke="#c0c0c0" stroke-width="1.5"/>
<line x1="175.5" y1="1596.7000000000025" x2="193.5" y2="1596.7000000000025" stroke="#c0c0c0" stroke-width="1.5"/>
<line x1="175.5" y1="1549.2999999999986" x2="193.5" y2="1549.2999999999986" stroke="#c0c0c0" stroke-width="1.5"/>
<line x1="175.5" y1="1525.6" x2="193.5" y2="1525.6" stroke="#c0c0c0" stroke-width="1.5"/>
<line x1="175.5" y1="1501.9000000000012" x2="193.5" y2="1501.9000000000012" stroke="#c0c0c0" stroke-width="1.5"/>
<line x1="175.5" y1="1454.5000000000039" x2="193.5" y2="1454.5000000000039" stroke="#c0c0c0" stroke-width="1.5"/>
<line x1="175.5" y1="1430.7999999999986" x2="193.5" y2="1430.7999999999986" stroke="#c0c0c0" stroke-width="1.5"/>
<line x1="175.5" y1="1407.1" x2="193.5" y2="1407.1" stroke="#c0c0c0" stroke-width="1.5"/>
<line x1="175.5" y1="1359.7000000000025" x2="193.5" y2="1359.7000000000025" stroke="#c0c0c0" stroke-width="1.5"/>
<line x1="175.5" y1="1336.0000000000039" x2="193.5" y2="1336.0000000000039" stroke="#c0c0c0" stroke-width="1.5"/>
<line x1="175.5" y1="1312.2999999999986" x2="193.5" y2="1312.2999999999986" stroke="#c0c0c0" stroke-width="1.5"/>
<line x1="175.5" y1="1264.9000000000012" x2="193.5" y2="1264.9000000000012" stroke="#c0c0c0" stroke-width="1.5"/>
<line x1="175.5" y1="1241.2000000000025" x2="193.5" y2="1241.2000000000025" stroke="#c0c0c0" stroke-width="1.5"/>
<line x1="175.5" y1="1217.5000000000039" x2="193.5" y2="1217.5000000000039" stroke="#c0c0c0" stroke-width="1.5"/>
<line x1="2400" y1="1875.0" x2="2416" y2="1875.0" stroke="#c0c0c0" stroke-width="1.5"/>
<line x1="2400" y1="1727.6000000000001" x2="2416" y2="1727.6000000000001" stroke="#c0c0c0" stroke-width="1.5"/>
<line x1="2400" y1="1580.2" x2="2416" y2="1580.2" stroke="#c0c0c0" stroke-width="1.5"/>
<line x1="2400" y1="1432.8000000000002" x2="2416" y2="1432.8000000000002" stroke="#c0c0c0" stroke-width="1.5"/>
<line x1="2400" y1="1285.4" x2="2416" y2="1285.4" stroke="#c0c0c0" stroke-width="1.5"/>
<line x1="2401" y1="1904.48" x2="2416" y2="1904.48" stroke="#c0c0c0" stroke-width="1.5"/>
<line x1="2401" y1="1845.5199999999995" x2="2416" y2="1845.5199999999995" stroke="#c0c0c0" stroke-width="1.5"/>
<line x1="2401" y1="1816.04" x2="2416" y2="1816.04" stroke="#c0c0c0" stroke-width="1.5"/>
<line x1="2401" y1="1786.56" x2="2416" y2="1786.56" stroke="#c0c0c0" stroke-width="1.5"/>
<line x1="2401" y1="1757.08" x2="2416" y2="1757.08" stroke="#c0c0c0" stroke-width="1.5"/>
<line x1="2401" y1="1698.1199999999997" x2="2416" y2="1698.1199999999997" stroke="#c0c0c0" stroke-width="1.5"/>
<line x1="2401" y1="1668.6399999999999" x2="2416" y2="1668.6399999999999" stroke="#c0c0c0" stroke-width="1.5"/>
<line x1="2401" y1="1639.1599999999999" x2="2416" y2="1639.1599999999999" stroke="#c0c0c0" stroke-width="1.5"/>
<line x1="2401" y1="1609.68" x2="2416" y2="1609.68" stroke="#c0c0c0" stroke-width="1.5"/>
<line x1="2401" y1="1550.7199999999998" x2="2416" y2="1550.7199999999998" stroke="#c0c0c0" stroke-width="1.5"/>
<line x1="2401" y1="1521.2399999999998" x2="2416" y2="1521.2399999999998" stroke="#c0c0c0" stroke-width="1.5"/>
<line x1="2401" y1="1491.7599999999998" x2="2416" y2="1491.7599999999998" stroke="#c0c0c0" stroke-width="1.5"/>
<line x1="2401" y1="1462.28" x2="2416" y2="1462.28" stroke="#c0c0c0" stroke-width="1.5"/>
<line x1="2401" y1="1403.3199999999997" x2="2416" y2="1403.3199999999997" stroke="#c0c0c0" stroke-width="1.5"/>
<line x1="2401" y1="1373.8399999999997" x2="2416" y2="1373.8399999999997" stroke="#c0c0c0" stroke-width="1.5"/>
<line x1="2401" y1="1344.36" x2="2416" y2="1344.36" stroke="#c0c0c0" stroke-width="1.5"/>
<line x1="2401" y1="1314.8799999999999" x2="2416" y2="1314.8799999999999" stroke="#c0c0c0" stroke-width="1.5"/>
<line x1="2401" y1="1255.9199999999996" x2="2416" y2="1255.9199999999996" stroke="#c0c0c0" stroke-width="1.5"/>
<line x1="2401" y1="1226.4399999999998" x2="2416" y2="1226.4399999999998" stroke="#c0c0c0" stroke-width="1.5"/>
<g fill="none" stroke="#00ff00" stroke-opacity="0.72" stroke-width="2.0" stroke-linecap="round"><path d="M276.0 1857.4L294.0 1857.4"/><path d="M294.0 1857.4L312.0 1857.4"/><path d="M312.0 1857.4L330.1 1857.4"/><path d="M330.1 1857.4L348.1 1857.4"/><path d="M348.1 1857.4L366.1 1857.4"/><path d="M366.1 1857.4L384.1 1857.4"/><path d="M384.1 1857.4L402.1 1857.4"/><path d="M402.1 1857.4L420.2 1857.4"/><path d="M420.2 1857.4L438.2 1857.4"/><path d="M438.2 1857.4L456.2 1857.4"/><path d="M456.2 1857.4L474.2 1857.4"/><path d="M474.2 1857.4L492.2 1857.4"/><path d="M492.2 1857.4L510.3 1857.4"/><path d="M510.3 1857.4L528.3 1857.4"/><path d="M528.3 1857.4L546.3 1857.4"/><path d="M546.3 1857.4L564.3 1904.8"/><path d="M564.3 1904.8L582.3 1857.4"/><path d="M582.3 1857.4L600.4 1857.4"/><path d="M600.4 1857.4L618.4 1857.4"/><path d="M618.4 1857.4L636.4 1857.4"/><path d="M636.4 1857.4L654.4 1857.4"/><path d="M654.4 1857.4L672.4 1810.0"/><path d="M672.4 1810.0L690.5 1810.0"/><path d="M690.5 1810.0L708.5 1810.0"/><path d="M708.5 1810.0L726.5 1810.0"/><path d="M726.5 1810.0L744.5 1857.4"/><path d="M744.5 1857.4L762.5 1478.2"/><path d="M762.5 1478.2L780.6 1715.2"/><path d="M780.6 1715.2L798.6 1383.4"/><path d="M798.6 1383.4L816.6 1715.2"/><path d="M816.6 1715.2L834.6 1525.6"/><path d="M834.6 1525.6L852.6 1810.0"/><path d="M852.6 1810.0L870.7 1478.2"/><path d="M870.7 1478.2L888.7 1430.8"/><path d="M888.7 1430.8L906.7 1810.0"/><path d="M906.7 1810.0L924.7 1430.8"/><path d="M924.7 1430.8L942.7 1383.4"/><path d="M942.7 1383.4L960.8 1383.4"/><path d="M960.8 1383.4L978.8 1715.2"/><path d="M978.8 1715.2L996.8 1241.2"/><path d="M996.8 1241.2L1014.8 1620.4"/><path d="M1014.8 1620.4L1032.8 1573.0"/><path d="M1032.8 1573.0L1050.9 1288.6"/><path d="M1050.9 1288.6L1068.9 1573.0"/><path d="M1068.9 1573.0L1086.9 1478.2"/><path d="M1086.9 1478.2L1104.9 1430.8"/><path d="M1104.9 1430.8L1122.9 1478.2"/><path d="M1122.9 1478.2L1141.0 1620.4"/><path d="M1141.0 1620.4L1159.0 1430.8"/><path d="M1159.0 1430.8L1177.0 1620.4"/><path d="M1177.0 1620.4L1195.0 1478.2"/><path d="M1195.0 1478.2L1213.0 1430.8"/><path d="M1213.0 1430.8L1231.1 1667.8"/><path d="M1231.1 1667.8L1249.1 1383.4"/><path d="M1249.1 1383.4L1267.1 1430.8"/><path d="M1267.1 1430.8L1285.1 1430.8"/><path d="M1285.1 1430.8L1303.1 1383.4"/><path d="M1303.1 1383.4L1321.2 1620.4"/><path d="M1321.2 1620.4L1339.2 1667.8"/><path d="M1339.2 1667.8L1357.2 1383.4"/><path d="M1357.2 1383.4L1375.2 1383.4"/><path d="M1375.2 1383.4L1393.2 1430.8"/><path d="M1393.2 1430.8L1411.3 1430.8"/><path d="M1411.3 1430.8L1429.3 1383.4"/><path d="M1429.3 1383.4L1447.3 1383.4"/><path d="M1447.3 1383.4L1465.3 1430.8"/><path d="M1465.3 1430.8L1483.3 1430.8"/><path d="M1483.3 1430.8L1501.4 1383.4"/><path d="M1501.4 1383.4L1519.4 1430.8"/><path d="M1519.4 1430.8L1537.4 1430.8"/><path d="M1537.4 1430.8L1555.4 1430.8"/><path d="M1555.4 1430.8L1573.4 1430.8"/><path d="M1573.4 1430.8L1591.5 1430.8"/><path d="M1591.5 1430.8L1609.5 1430.8"/><path d="M1609.5 1430.8L1627.5 1430.8"/><path d="M1627.5 1430.8L1645.5 1430.8"/><path d="M1645.5 1430.8L1663.5 1430.8"/><path d="M1663.5 1430.8L1681.6 1620.4"/><path d="M1681.6 1620.4L1699.6 1478.2"/><path d="M1699.6 1478.2L1717.6 1430.8"/><path d="M1717.6 1430.8L1735.6 1383.4"/><path d="M1735.6 1383.4L1753.6 1430.8"/><path d="M1753.6 1430.8L1771.7 1478.2"/><path d="M1771.7 1478.2L1789.7 1810.0"/><path d="M1789.7 1810.0L1807.7 1383.4"/><path d="M1807.7 1383.4L1825.7 1430.8"/><path d="M1825.7 1430.8L1843.7 1430.8"/><path d="M1843.7 1430.8L1861.8 1383.4"/><path d="M1861.8 1383.4L1879.8 1383.4"/><path d="M1879.8 1383.4L1897.8 1430.8"/><path d="M1897.8 1430.8L1915.8 1430.8"/><path d="M1915.8 1430.8L1933.8 1430.8"/><path d="M1933.8 1430.8L1951.9 1430.8"/><path d="M1951.9 1430.8L1969.9 1430.8"/><path d="M1969.9 1430.8L1987.9 1430.8"/><path d="M1987.9 1430.8L2005.9 1430.8"/><path d="M2005.9 1430.8L2023.9 1430.8"/><path d="M2023.9 1430.8L2042.0 1430.8"/><path d="M2042.0 1430.8L2060.0 1430.8"/><path d="M2060.0 1430.8L2078.0 1430.8"/><path d="M2078.0 1430.8L2096.0 1430.8"/><path d="M2096.0 1430.8L2114.0 1430.8"/><path d="M2114.0 1430.8L2132.1 1430.8"/><path d="M2132.1 1430.8L2150.1 1430.8"/><path d="M2150.1 1430.8L2168.1 1430.8"/><path d="M2168.1 1430.8L2186.1 1430.8"/><path d="M2186.1 1430.8L2204.1 1383.4"/><path d="M2204.1 1383.4L2222.2 1430.8"/><path d="M2222.2 1430.8L2240.2 1430.8"/><path d="M2240.2 1430.8L2258.2 1430.8"/><path d="M2258.2 1430.8L2276.2 1430.8"/><path d="M2276.2 1430.8L2294.2 1383.4"/><path d="M2294.2 1383.4L2312.3 1430.8"/></g>
<g fill="none" stroke="#0000ff" stroke-opacity="0.72" stroke-width="2.0" stroke-linecap="round"><path d="M276.0 1620.1L294.0 1620.1"/><path d="M294.0 1620.1L312.0 1626.4"/><path d="M312.0 1626.4L330.1 1623.2"/><path d="M330.1 1623.2L348.1 1629.4"/><path d="M348.1 1629.4L366.1 1629.4"/><path d="M366.1 1629.4L384.1 1632.0"/><path d="M384.1 1632.0L402.1 1635.0"/><path d="M402.1 1635.0L420.2 1638.5"/><path d="M420.2 1638.5L438.2 1641.5"/><path d="M438.2 1641.5L456.2 1641.5"/><path d="M456.2 1641.5L474.2 1647.3"/><path d="M474.2 1647.3L492.2 1647.3"/><path d="M492.2 1647.3L510.3 1653.1"/><path d="M510.3 1653.1L528.3 1656.0"/><path d="M528.3 1656.0L546.3 1662.0"/><path d="M546.3 1662.0L564.3 1668.4"/><path d="M564.3 1668.4L582.3 1668.4"/><path d="M582.3 1668.4L600.4 1677.7"/><path d="M600.4 1677.7L618.4 1680.0"/><path d="M618.4 1680.0L636.4 1686.2"/><path d="M636.4 1686.2L654.4 1689.7"/><path d="M654.4 1689.7L672.4 1692.0"/><path d="M672.4 1692.0L690.5 1697.8"/><path d="M690.5 1697.8L708.5 1698.0"/><path d="M708.5 1698.0L726.5 1695.5"/><path d="M726.5 1695.5L744.5 1638.7"/><path d="M744.5 1638.7L762.5 1798.0"/><path d="M762.5 1798.0L780.6 1656.8"/><path d="M780.6 1656.8L798.6 1899.9"/><path d="M798.6 1899.9L816.6 1589.2"/><path d="M816.6 1589.2L834.6 1747.6"/><path d="M834.6 1747.6L852.6 1253.2"/><path d="M852.6 1253.2L870.7 1708.0"/><path d="M870.7 1708.0L888.7 1705.0"/><path d="M888.7 1705.0L906.7 1250.2"/><path d="M906.7 1250.2L924.7 1847.4"/><path d="M924.7 1847.4L942.7 1733.5"/><path d="M942.7 1733.5L960.8 1803.1"/><path d="M960.8 1803.1L978.8 1287.5"/><path d="M978.8 1287.5L996.8 1890.8"/><path d="M996.8 1890.8L1014.8 1241.2"/><path d="M1014.8 1241.2L1032.8 1560.0"/><path d="M1032.8 1560.0L1050.9 1890.8"/><path d="M1050.9 1890.8L1068.9 1324.0"/><path d="M1068.9 1324.0L1086.9 1742.0"/><path d="M1086.9 1742.0L1104.9 1839.4"/><path d="M1104.9 1839.4L1122.9 1640.7"/><path d="M1122.9 1640.7L1141.0 1748.0"/><path d="M1141.0 1748.0L1159.0 1854.5"/><path d="M1159.0 1854.5L1177.0 1774.8"/><path d="M1177.0 1774.8L1195.0 1785.9"/><path d="M1195.0 1785.9L1213.0 1871.7"/><path d="M1213.0 1871.7L1231.1 1555.0"/><path d="M1231.1 1555.0L1249.1 1865.6"/><path d="M1249.1 1865.6L1267.1 1800.0"/><path d="M1267.1 1800.0L1285.1 1842.4"/><path d="M1285.1 1842.4L1303.1 1877.7"/><path d="M1303.1 1877.7L1321.2 1332.9"/><path d="M1321.2 1332.9L1339.2 1466.0"/><path d="M1339.2 1466.0L1357.2 1873.7"/><path d="M1357.2 1873.7L1375.2 1865.6"/><path d="M1375.2 1865.6L1393.2 1842.4"/><path d="M1393.2 1842.4L1411.3 1852.5"/><path d="M1411.3 1852.5L1429.3 1862.6"/><path d="M1429.3 1862.6L1447.3 1855.5"/><path d="M1447.3 1855.5L1465.3 1853.5"/><path d="M1465.3 1853.5L1483.3 1856.5"/><path d="M1483.3 1856.5L1501.4 1859.5"/><path d="M1501.4 1859.5L1519.4 1856.5"/><path d="M1519.4 1856.5L1537.4 1856.5"/><path d="M1537.4 1856.5L1555.4 1856.5"/><path d="M1555.4 1856.5L1573.4 1856.5"/><path d="M1573.4 1856.5L1591.5 1859.5"/><path d="M1591.5 1859.5L1609.5 1856.5"/><path d="M1609.5 1856.5L1627.5 1856.5"/><path d="M1627.5 1856.5L1645.5 1859.5"/><path d="M1645.5 1859.5L1663.5 1859.5"/><path d="M1663.5 1859.5L1681.6 1753.6"/><path d="M1681.6 1753.6L1699.6 1790.0"/><path d="M1699.6 1790.0L1717.6 1866.6"/><path d="M1717.6 1866.6L1735.6 1889.8"/><path d="M1735.6 1889.8L1753.6 1850.5"/><path d="M1753.6 1850.5L1771.7 1847.4"/><path d="M1771.7 1847.4L1789.7 1355.1"/><path d="M1789.7 1355.1L1807.7 1896.9"/><path d="M1807.7 1896.9L1825.7 1819.2"/><path d="M1825.7 1819.2L1843.7 1842.4"/><path d="M1843.7 1842.4L1861.8 1882.7"/><path d="M1861.8 1882.7L1879.8 1868.0"/><path d="M1879.8 1868.0L1897.8 1850.9"/><path d="M1897.8 1850.9L1915.8 1862.2"/><path d="M1915.8 1862.2L1933.8 1869.1"/><path d="M1933.8 1869.1L1951.9 1865.9"/><path d="M1951.9 1865.9L1969.9 1862.7"/><path d="M1969.9 1862.7L1987.9 1865.9"/><path d="M1987.9 1865.9L2005.9 1869.1"/><path d="M2005.9 1869.1L2023.9 1865.4"/><path d="M2023.9 1865.4L2042.0 1865.4"/><path d="M2042.0 1865.4L2060.0 1869.1"/><path d="M2060.0 1869.1L2078.0 1869.1"/><path d="M2078.0 1869.1L2096.0 1869.1"/><path d="M2096.0 1869.1L2114.0 1869.1"/><path d="M2114.0 1869.1L2132.1 1871.8"/><path d="M2132.1 1871.8L2150.1 1869.1"/><path d="M2150.1 1869.1L2168.1 1871.8"/><path d="M2168.1 1871.8L2186.1 1871.8"/><path d="M2186.1 1871.8L2204.1 1871.8"/><path d="M2204.1 1871.8L2222.2 1871.8"/><path d="M2222.2 1871.8L2240.2 1875.0"/><path d="M2240.2 1875.0L2258.2 1875.0"/><path d="M2258.2 1875.0L2276.2 1875.0"/><path d="M2276.2 1875.0L2294.2 1875.0"/><path d="M2294.2 1875.0L2312.3 1877.6"/></g>
<polygon points="170,1204 2422,1204 2416,1210 175.5,1210 175.5,1927 170,1927" fill="#4f4f4f"/>
<polygon points="2422,1204 2422,1927 2416,1927 2416,1210" fill="#e0e0e0"/>
<line x1="157" y1="1857.4000000000012" x2="170" y2="1857.4000000000012" stroke="#b4b4b4" stroke-width="1.2"/>
<line x1="157" y1="1762.6" x2="170" y2="1762.6" stroke="#b4b4b4" stroke-width="1.2"/>
<line x1="157" y1="1667.7999999999986" x2="170" y2="1667.7999999999986" stroke="#b4b4b4" stroke-width="1.2"/>
<line x1="157" y1="1573.000000000004" x2="170" y2="1573.000000000004" stroke="#b4b4b4" stroke-width="1.2"/>
<line x1="157" y1="1478.2000000000025" x2="170" y2="1478.2000000000025" stroke="#b4b4b4" stroke-width="1.2"/>
<line x1="157" y1="1383.4000000000012" x2="170" y2="1383.4000000000012" stroke="#b4b4b4" stroke-width="1.2"/>
<line x1="157" y1="1288.6" x2="170" y2="1288.6" stroke="#b4b4b4" stroke-width="1.2"/>
<line x1="2422" y1="1875.0" x2="2433" y2="1875.0" stroke="#b4b4b4" stroke-width="1.2"/>
<line x1="2422" y1="1727.6000000000001" x2="2433" y2="1727.6000000000001" stroke="#b4b4b4" stroke-width="1.2"/>
<line x1="2422" y1="1580.2" x2="2433" y2="1580.2" stroke="#b4b4b4" stroke-width="1.2"/>
<line x1="2422" y1="1432.8000000000002" x2="2433" y2="1432.8000000000002" stroke="#b4b4b4" stroke-width="1.2"/>
<line x1="2422" y1="1285.4" x2="2433" y2="1285.4" stroke="#b4b4b4" stroke-width="1.2"/>
<line x1="232.2" y1="1927" x2="232.2" y2="1945" stroke="#b4b4b4" stroke-width="1.2"/>
<line x1="699.75" y1="1927" x2="699.75" y2="1945" stroke="#b4b4b4" stroke-width="1.2"/>
<line x1="1167.3" y1="1927" x2="1167.3" y2="1945" stroke="#b4b4b4" stroke-width="1.2"/>
<line x1="1634.8500000000001" y1="1927" x2="1634.8500000000001" y2="1945" stroke="#b4b4b4" stroke-width="1.2"/>
<line x1="2102.4" y1="1927" x2="2102.4" y2="1945" stroke="#b4b4b4" stroke-width="1.2"/>
<text x="149" y="1870.9000000000012" font-size="38" text-anchor="end" style="font-family:'Liberation Sans',sans-serif;font-kerning:none" >115.2</text>
<rect x="55.82" y="1867.48" width="7.70" height="4.92" fill="#c0c0c0"/>
<rect x="66.73" y="1867.48" width="7.22" height="4.92" fill="#c0c0c0"/>
<rect x="76.95" y="1867.48" width="7.70" height="4.92" fill="#c0c0c0"/>
<rect x="87.86" y="1867.48" width="7.22" height="4.92" fill="#c0c0c0"/>
<text x="149" y="1776.1" font-size="38" text-anchor="end" style="font-family:'Liberation Sans',sans-serif;font-kerning:none" >115.4</text>
<rect x="55.82" y="1772.68" width="7.70" height="4.92" fill="#c0c0c0"/>
<rect x="66.73" y="1772.68" width="7.22" height="4.92" fill="#c0c0c0"/>
<rect x="76.95" y="1772.68" width="7.70" height="4.92" fill="#c0c0c0"/>
<rect x="87.86" y="1772.68" width="7.22" height="4.92" fill="#c0c0c0"/>
<text x="149" y="1681.2999999999986" font-size="38" text-anchor="end" style="font-family:'Liberation Sans',sans-serif;font-kerning:none" >115.6</text>
<rect x="55.82" y="1677.88" width="7.70" height="4.92" fill="#c0c0c0"/>
<rect x="66.73" y="1677.88" width="7.22" height="4.92" fill="#c0c0c0"/>
<rect x="76.95" y="1677.88" width="7.70" height="4.92" fill="#c0c0c0"/>
<rect x="87.86" y="1677.88" width="7.22" height="4.92" fill="#c0c0c0"/>
<text x="149" y="1586.500000000004" font-size="38" text-anchor="end" style="font-family:'Liberation Sans',sans-serif;font-kerning:none" >115.8</text>
<rect x="55.82" y="1583.08" width="7.70" height="4.92" fill="#c0c0c0"/>
<rect x="66.73" y="1583.08" width="7.22" height="4.92" fill="#c0c0c0"/>
<rect x="76.95" y="1583.08" width="7.70" height="4.92" fill="#c0c0c0"/>
<rect x="87.86" y="1583.08" width="7.22" height="4.92" fill="#c0c0c0"/>
<text x="149" y="1491.7000000000025" font-size="38" text-anchor="end" style="font-family:'Liberation Sans',sans-serif;font-kerning:none" >116.0</text>
<rect x="55.82" y="1488.28" width="7.70" height="4.92" fill="#c0c0c0"/>
<rect x="66.73" y="1488.28" width="7.22" height="4.92" fill="#c0c0c0"/>
<rect x="76.95" y="1488.28" width="7.70" height="4.92" fill="#c0c0c0"/>
<rect x="87.86" y="1488.28" width="7.22" height="4.92" fill="#c0c0c0"/>
<text x="149" y="1396.9000000000012" font-size="38" text-anchor="end" style="font-family:'Liberation Sans',sans-serif;font-kerning:none" >116.2</text>
<rect x="55.82" y="1393.48" width="7.70" height="4.92" fill="#c0c0c0"/>
<rect x="66.73" y="1393.48" width="7.22" height="4.92" fill="#c0c0c0"/>
<rect x="76.95" y="1393.48" width="7.70" height="4.92" fill="#c0c0c0"/>
<rect x="87.86" y="1393.48" width="7.22" height="4.92" fill="#c0c0c0"/>
<text x="149" y="1302.1" font-size="38" text-anchor="end" style="font-family:'Liberation Sans',sans-serif;font-kerning:none" >116.4</text>
<rect x="55.82" y="1298.68" width="7.70" height="4.92" fill="#c0c0c0"/>
<rect x="66.73" y="1298.68" width="7.22" height="4.92" fill="#c0c0c0"/>
<rect x="76.95" y="1298.68" width="7.70" height="4.92" fill="#c0c0c0"/>
<rect x="87.86" y="1298.68" width="7.22" height="4.92" fill="#c0c0c0"/>
<text x="2439.5" y="1887.8" font-size="38" text-anchor="start" style="font-family:'Liberation Sans',sans-serif;font-kerning:none" >11.5</text>
<rect x="2441.40" y="1884.38" width="7.70" height="4.92" fill="#c0c0c0"/>
<rect x="2452.31" y="1884.38" width="7.22" height="4.92" fill="#c0c0c0"/>
<rect x="2462.53" y="1884.38" width="7.70" height="4.92" fill="#c0c0c0"/>
<rect x="2473.43" y="1884.38" width="7.22" height="4.92" fill="#c0c0c0"/>
<text x="2439.5" y="1740.4" font-size="38" text-anchor="start" style="font-family:'Liberation Sans',sans-serif;font-kerning:none" >12.0</text>
<rect x="2441.40" y="1736.98" width="7.70" height="4.92" fill="#c0c0c0"/>
<rect x="2452.31" y="1736.98" width="7.22" height="4.92" fill="#c0c0c0"/>
<text x="2439.5" y="1593.0" font-size="38" text-anchor="start" style="font-family:'Liberation Sans',sans-serif;font-kerning:none" >12.5</text>
<rect x="2441.40" y="1589.58" width="7.70" height="4.92" fill="#c0c0c0"/>
<rect x="2452.31" y="1589.58" width="7.22" height="4.92" fill="#c0c0c0"/>
<text x="2439.5" y="1445.6000000000001" font-size="38" text-anchor="start" style="font-family:'Liberation Sans',sans-serif;font-kerning:none" >13.0</text>
<rect x="2441.40" y="1442.18" width="7.70" height="4.92" fill="#c0c0c0"/>
<rect x="2452.31" y="1442.18" width="7.22" height="4.92" fill="#c0c0c0"/>
<text x="2439.5" y="1298.2" font-size="38" text-anchor="start" style="font-family:'Liberation Sans',sans-serif;font-kerning:none" >13.5</text>
<rect x="2441.40" y="1294.78" width="7.70" height="4.92" fill="#c0c0c0"/>
<rect x="2452.31" y="1294.78" width="7.22" height="4.92" fill="#c0c0c0"/>
<text x="230.7" y="1976.5" font-size="38" text-anchor="middle" style="font-family:'Liberation Sans',sans-serif;font-kerning:none" >24:960</text>
<text x="698.25" y="1976.5" font-size="38" text-anchor="middle" style="font-family:'Liberation Sans',sans-serif;font-kerning:none" >25:392</text>
<text x="1165.8" y="1976.5" font-size="38" text-anchor="middle" style="font-family:'Liberation Sans',sans-serif;font-kerning:none" >25:824</text>
<text x="1633.3500000000001" y="1976.5" font-size="38" text-anchor="middle" style="font-family:'Liberation Sans',sans-serif;font-kerning:none" >26:256</text>
<text x="2100.9" y="1976.5" font-size="38" text-anchor="middle" style="font-family:'Liberation Sans',sans-serif;font-kerning:none" >26:688</text>
<g transform="translate(44,1572) rotate(-90)"><text x="0" y="0" font-size="38" text-anchor="middle" style="font-family:'Liberation Sans',sans-serif;font-kerning:none">Ch1 V</text>
<rect x="-2.34" y="-3.42" width="7.70" height="4.92" fill="#c0c0c0"/>
<rect x="8.57" y="-3.42" width="7.22" height="4.92" fill="#c0c0c0"/>
</g>
<g transform="translate(2521.5,1572) rotate(90)"><text x="0" y="0" font-size="38" text-anchor="middle" style="font-family:'Liberation Sans',sans-serif;font-kerning:none">Ch1 A</text>
<rect x="-2.34" y="-3.42" width="7.70" height="4.92" fill="#c0c0c0"/>
<rect x="8.57" y="-3.42" width="7.22" height="4.92" fill="#c0c0c0"/>
</g>
<rect x="0" y="1700" width="2560" height="9" fill="#c0c0c0"/>
</svg></body></html>
